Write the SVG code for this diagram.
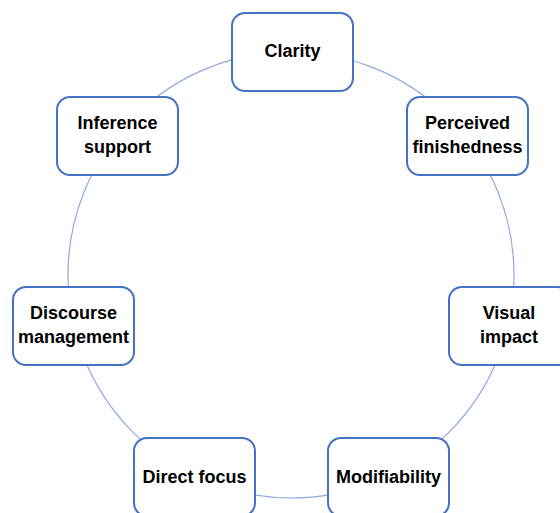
<svg xmlns="http://www.w3.org/2000/svg" width="560" height="513" viewBox="0 0 560 513">
<style>
.box{fill:#fff;stroke:#4472c4;stroke-width:2}
.lbl{font-family:"Liberation Sans",Arial,sans-serif;font-weight:bold;font-size:18px;fill:#000;text-anchor:middle;dominant-baseline:central}
.ring{fill:none;stroke:#8faadc;stroke-width:1.2}
</style>
<rect width="560" height="513" fill="#fff"/>
<g id="connectors">
<circle class="ring" cx="291" cy="275" r="223"/>
</g>
<g id="clarity">
<rect class="box" x="232" y="13" width="121" height="78" rx="13"/>
<text class="lbl" x="292.5" y="51">Clarity</text>
</g>
<g id="perceived-finishedness">
<rect class="box" x="407" y="97" width="121" height="78" rx="13"/>
<text class="lbl" x="467.5" y="123">Perceived</text>
<text class="lbl" x="467.5" y="147">finishedness</text>
</g>
<g id="visual-impact">
<rect class="box" x="449" y="287" width="121" height="78" rx="13"/>
<text class="lbl" x="509" y="313">Visual</text>
<text class="lbl" x="509" y="337">impact</text>
</g>
<g id="modifiability">
<rect class="box" x="328" y="438" width="121" height="78" rx="13"/>
<text class="lbl" x="388.5" y="477">Modifiability</text>
</g>
<g id="direct-focus">
<rect class="box" x="134" y="438" width="121" height="78" rx="13"/>
<text class="lbl" x="194.5" y="477">Direct focus</text>
</g>
<g id="discourse-management">
<rect class="box" x="13" y="287" width="121" height="78" rx="13"/>
<text class="lbl" x="73.5" y="313">Discourse</text>
<text class="lbl" x="73.5" y="337">management</text>
</g>
<g id="inference-support">
<rect class="box" x="57" y="97" width="121" height="78" rx="13"/>
<text class="lbl" x="117.5" y="123">Inference</text>
<text class="lbl" x="117.5" y="147">support</text>
</g>
</svg>
